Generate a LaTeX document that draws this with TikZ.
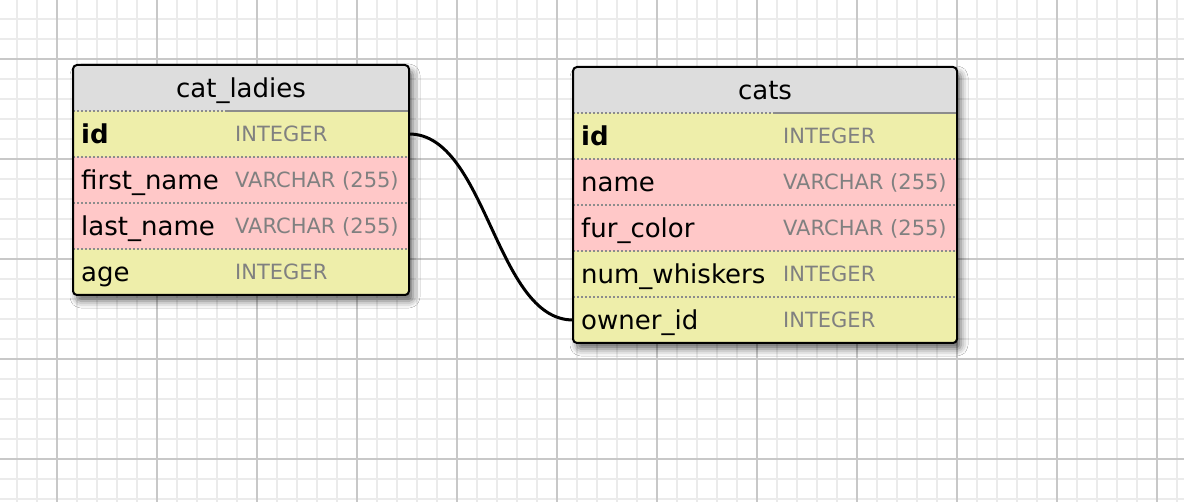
\documentclass[tikz,border=0pt]{standalone}
\usepackage{fontspec}
\setmainfont{DejaVu Sans}
\usetikzlibrary{shadows.blur}
\definecolor{gridminor}{HTML}{EBEBEB}
\definecolor{gridmajor}{HTML}{C8C8C8}
\definecolor{headfill}{HTML}{DDDDDD}
\definecolor{intfill}{HTML}{EEEEAA}
\definecolor{charfill}{HTML}{FFC8C8}
\definecolor{sepline}{HTML}{8C8C8C}
\definecolor{typetext}{HTML}{808080}

\begin{document}
\begin{tikzpicture}[x=1pt, y=-1pt,
  fieldrow/.style={minimum height=46pt, inner sep=0pt, outer sep=0pt, anchor=north west},
  fieldname/.style={anchor=base west, inner sep=0pt, font=\fontsize{26}{30}\selectfont},
  fieldtype/.style={anchor=base west, inner sep=0pt, text=typetext, font=\fontsize{21}{25}\selectfont},
  tablename/.style={anchor=base, inner sep=0pt, font=\fontsize{26}{30}\selectfont},
  dotsep/.style={draw=sepline, line width=1.5pt, dash pattern=on 2pt off 2pt},
  tableshade/.style={fill=headfill, rounded corners=4pt,
    blur shadow={shadow xshift=4pt, shadow yshift=-6pt, shadow blur radius=7pt, shadow opacity=60}},
  tableframe/.style={draw=black, line width=2pt, rounded corners=4pt}]

  \useasboundingbox (0,0) rectangle (1184,502);
  \fill[white] (0,0) rectangle (1184,502);

  % grid
  \foreach \x in {17,37,...,1177} \draw[gridminor, line width=1.5pt] (\x,0) -- (\x,502);
  \foreach \y in {19,39,...,499} \draw[gridminor, line width=1.5pt] (0,\y) -- (1184,\y);
  \foreach \x in {57,157,...,1157} \draw[gridmajor, line width=1.5pt] (\x,0) -- (\x,502);
  \foreach \y in {59,159,...,459} \draw[gridmajor, line width=1.5pt] (0,\y) -- (1184,\y);

  % cat_ladies
  \path[tableshade] (73,65) rectangle (409,295);
  \begin{scope}
    \clip[rounded corners=4pt] (73,65) rectangle (409,295);
    \foreach \i/\fname/\ftype/\fcol in {0/{\textbf{id}}/INTEGER/intfill,
        1/first\_name/VARCHAR (255)/charfill, 2/last\_name/VARCHAR (255)/charfill,
        3/age/INTEGER/intfill} {
      \node[fieldrow, fill=\fcol, minimum width=336pt] (lady\i) at (73,{111+46*\i}) {};
      \node[fieldname] at ([xshift=8pt, yshift=-10pt]lady\i.west) {\fname};
      \node[fieldtype] at ([xshift=162pt, yshift=-8pt]lady\i.west) {\ftype};
    }
  \end{scope}
  \node[tablename] (ladytitle) at (241,98) {cat\_ladies};
  \foreach \i in {1,2,3} \draw[dotsep] (lady\i.north west) -- (lady\i.north east);
  \draw[dotsep] (lady0.north west) -- ++(154,0);
  \draw[sepline, line width=2pt] ([xshift=154pt]lady0.north west) -- (lady0.north east);
  \draw[tableframe] (73,65) rectangle (409,295);

  % cats
  \path[tableshade] (573,67) rectangle (957,343);
  \begin{scope}
    \clip[rounded corners=4pt] (573,67) rectangle (957,343);
    \foreach \i/\fname/\ftype/\fcol in {0/{\textbf{id}}/INTEGER/intfill,
        1/name/VARCHAR (255)/charfill, 2/fur\_color/VARCHAR (255)/charfill,
        3/num\_whiskers/INTEGER/intfill, 4/owner\_id/INTEGER/intfill} {
      \node[fieldrow, fill=\fcol, minimum width=384pt] (cat\i) at (573,{113+46*\i}) {};
      \node[fieldname] at ([xshift=8pt, yshift=-10pt]cat\i.west) {\fname};
      \node[fieldtype] at ([xshift=210pt, yshift=-8pt]cat\i.west) {\ftype};
    }
  \end{scope}
  \node[tablename] (cattitle) at (765,100) {cats};
  \foreach \i in {1,2,3,4} \draw[dotsep] (cat\i.north west) -- (cat\i.north east);
  \draw[dotsep] (cat0.north west) -- ++(200,0);
  \draw[sepline, line width=2pt] ([xshift=200pt]cat0.north west) -- (cat0.north east);
  \draw[tableframe] (573,67) rectangle (957,343);

  % owner link
  \draw[line width=3pt] (lady0.east) to[out=0, in=180, looseness=0.8] (cat4.west);
\end{tikzpicture}
\end{document}
